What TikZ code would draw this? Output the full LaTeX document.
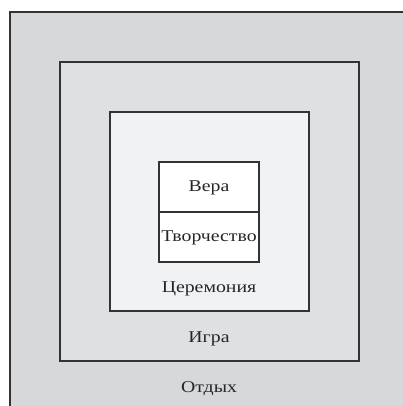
\documentclass[tikz,border=0pt]{standalone}
\usepackage{fontspec}
\setmainfont{Liberation Serif}[FakeStretch=1.2]
\definecolor{lvA}{HTML}{D7D8DA}
\definecolor{lvB}{HTML}{DFE0E2}
\definecolor{lvC}{HTML}{F1F2F4}
\definecolor{edge}{HTML}{333333}
\begin{document}
\begin{tikzpicture}[x=1pt,y=-1pt,
  box/.style={draw=edge,line width=1.1pt},
  lab/.style={font=\fontsize{16.5}{18}\selectfont,text=black!85,inner sep=0pt,anchor=base}]
\useasboundingbox (0,0) rectangle (403,406);
\fill[white] (0,0) rectangle (403,406);
\path[fill=lvA] (10,12) rectangle (405,408);
\draw[edge,line width=1.1pt] (10,408) |- (405,12);
\draw[box,fill=lvB] (60,62) rectangle (359,361);
\draw[box,fill=lvC] (110,112) rectangle (309,311);
\draw[box,fill=white] (159,162) rectangle (259,262);
\draw[box] (159,212) -- (259,212);
\node[lab] (vera) at (209,191.5) {Вера};
\node[lab] (tvor) at (209,241.5) {Творчество};
\node[lab] (cer) at (209,292) {Церемония};
\node[lab] (igra) at (209,342) {Игра};
\node[lab] (otd) at (209,392.5) {Отдых};
\end{tikzpicture}
\end{document}
